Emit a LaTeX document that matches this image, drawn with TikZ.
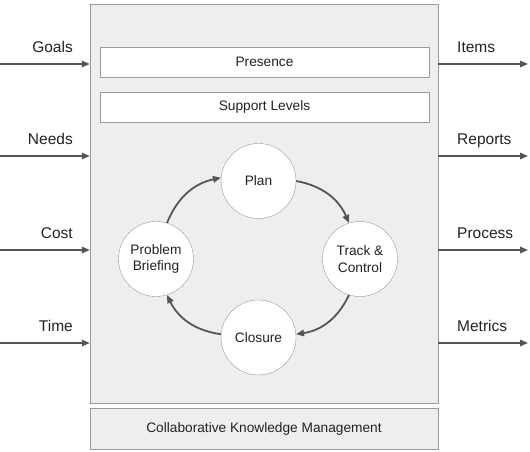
\documentclass[tikz,border=0pt]{standalone}
\usepackage{fontspec}
\setmainfont{Liberation Sans}
\usetikzlibrary{arrows.meta}
\definecolor{panel}{HTML}{EEEEEE}
\definecolor{edge}{HTML}{9A9A9A}
\definecolor{ink}{HTML}{555555}
\definecolor{txt}{HTML}{222222}
\begin{document}
\begin{tikzpicture}[x=1pt,y=1pt,
  flow/.style={ink,line width=1.5pt,-{Triangle[length=8pt,width=6.5pt]}},
  cycle/.style={flow,line width=1.8pt},
  band/.style={draw=edge,fill=white,minimum width=329pt,minimum height=30pt,inner sep=0pt,font=\fontsize{13.7}{16}\selectfont,text=txt},
  phase/.style={circle,draw=edge,fill=white,minimum size=75pt,inner sep=0pt,align=center,font=\fontsize{13.7}{16.5}\selectfont,text=txt},
  lab/.style={inner sep=0pt,font=\fontsize{15.5}{18}\selectfont,text=txt}]
\useasboundingbox (0,0) rectangle (530,452);
\node[draw=edge,fill=panel,minimum width=348pt,minimum height=399pt,inner sep=0pt] (box) at (264,248.5) {};
\node[draw=edge,fill=panel,minimum width=348pt,minimum height=41pt,inner sep=0pt,font=\fontsize{13.7}{16}\selectfont,text=txt] (km) at (264,23.5) {Collaborative Knowledge Management};
\node[band] (presence) at (264.5,390) {Presence};
\node[band] (support) at (264.5,345) {Support Levels};
\node[phase] (plan) at (258.5,271) {Plan};
\node[phase] (track) at (360,193) {Track \&\\Control};
\node[phase] (closure) at (258.5,114.5) {Closure};
\node[phase] (brief) at (156,193) {Problem\\Briefing};
\draw[cycle] (plan.east) to[bend left=28] (track.107);
\draw[cycle] (track.-107) to[bend left=28] (closure.5);
\draw[cycle] (closure.175) to[bend left=28] (brief.-73);
\draw[cycle] (brief.73) to[bend left=28] (plan.175);
\foreach \y/\t [count=\i] in {388/Goals,296/Needs,202/Cost,109/Time}{
  \coordinate (src\i) at (0,\y);
  \node[lab,anchor=base east] (in\i) at (73,\y+11) {\t};
  \draw[flow] (src\i) -- (src\i -| box.west);
}
\foreach \y/\t [count=\i] in {388/Items,296/Reports,202/Process,109/Metrics}{
  \coordinate (dst\i) at (528,\y);
  \node[lab,anchor=base west] (out\i) at (457,\y+11) {\t};
  \draw[flow] (dst\i -| box.east) -- (dst\i);
}
\end{tikzpicture}
\end{document}
